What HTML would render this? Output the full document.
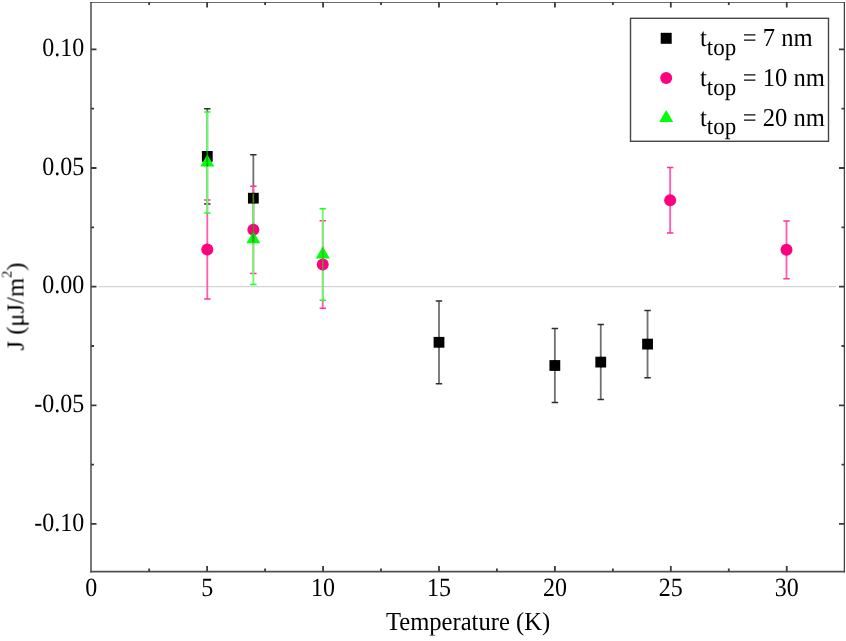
<!DOCTYPE html>
<html><head><meta charset="utf-8"><title>J vs Temperature</title>
<style>
html,body{margin:0;padding:0;background:#fff;}
body{width:846px;height:641px;overflow:hidden;}
svg{display:block;}
text{font-family:"Liberation Serif",serif;fill:#000;text-rendering:geometricPrecision;}
</style></head><body>
<svg width="846" height="641" viewBox="0 0 846 641">
<defs><filter id="soft" x="0" y="0" width="100%" height="100%"><feGaussianBlur stdDeviation="0.35"/></filter></defs>
<rect width="846" height="641" fill="#fff"/>
<g filter="url(#soft)">
<line x1="99" y1="286.67" x2="836" y2="286.67" stroke="#d4d4d4" stroke-width="1.2"/>
<path d="M91.0,571.6 V2.0" fill="none" stroke="#555" stroke-width="1.6" stroke-linecap="square"/>
<path d="M91.0,571.6 H844.5" fill="none" stroke="#505050" stroke-width="1.6" stroke-linecap="square"/>
<path d="M91.0,2.0 H844.5" fill="none" stroke="#3a3a3a" stroke-width="1.7" stroke-linecap="square"/>
<path d="M844.5,2.0 V571.6" fill="none" stroke="#404040" stroke-width="1.5" stroke-linecap="square"/>
<path d="M149.16,571.6v-3.0M149.16,2.0v3.0M207.12,571.6v-5.5M207.12,2.0v5.5M265.09,571.6v-3.0M265.09,2.0v3.0M323.05,571.6v-5.5M323.05,2.0v5.5M381.01,571.6v-3.0M381.01,2.0v3.0M438.97,571.6v-5.5M438.97,2.0v5.5M496.94,571.6v-3.0M496.94,2.0v3.0M554.90,571.6v-5.5M554.90,2.0v5.5M612.86,571.6v-3.0M612.86,2.0v3.0M670.83,571.6v-5.5M670.83,2.0v5.5M728.79,571.6v-3.0M728.79,2.0v3.0M786.75,571.6v-5.5M786.75,2.0v5.5M91.0,523.97h5.5M844.5,523.97h-5.5M91.0,464.65h3.0M844.5,464.65h-3.0M91.0,405.32h5.5M844.5,405.32h-5.5M91.0,346.00h3.0M844.5,346.00h-3.0M91.0,286.67h5.5M844.5,286.67h-5.5M91.0,227.35h3.0M844.5,227.35h-3.0M91.0,168.02h5.5M844.5,168.02h-5.5M91.0,108.69h3.0M844.5,108.69h-3.0M91.0,49.37h5.5M844.5,49.37h-5.5" stroke="#3a3a3a" stroke-width="1.8" fill="none"/>
<text transform="translate(91.20,595.6) scale(0.975,1.07)" font-size="24.6" text-anchor="middle" font-family="Liberation Serif, serif">0</text>
<text transform="translate(207.12,595.6) scale(0.975,1.07)" font-size="24.6" text-anchor="middle" font-family="Liberation Serif, serif">5</text>
<text transform="translate(323.05,595.6) scale(0.975,1.07)" font-size="24.6" text-anchor="middle" font-family="Liberation Serif, serif">10</text>
<text transform="translate(438.97,595.6) scale(0.975,1.07)" font-size="24.6" text-anchor="middle" font-family="Liberation Serif, serif">15</text>
<text transform="translate(554.90,595.6) scale(0.975,1.07)" font-size="24.6" text-anchor="middle" font-family="Liberation Serif, serif">20</text>
<text transform="translate(670.83,595.6) scale(0.975,1.07)" font-size="24.6" text-anchor="middle" font-family="Liberation Serif, serif">25</text>
<text transform="translate(786.75,595.6) scale(0.975,1.07)" font-size="24.6" text-anchor="middle" font-family="Liberation Serif, serif">30</text>
<text transform="translate(84.3,55.97) scale(0.975,1.07)" font-size="24.6" text-anchor="end" font-family="Liberation Serif, serif">0.10</text>
<text transform="translate(84.3,174.62) scale(0.975,1.07)" font-size="24.6" text-anchor="end" font-family="Liberation Serif, serif">0.05</text>
<text transform="translate(84.3,293.27) scale(0.975,1.07)" font-size="24.6" text-anchor="end" font-family="Liberation Serif, serif">0.00</text>
<text transform="translate(84.3,411.92) scale(0.975,1.07)" font-size="24.6" text-anchor="end" font-family="Liberation Serif, serif">-0.05</text>
<text transform="translate(84.3,530.57) scale(0.975,1.07)" font-size="24.6" text-anchor="end" font-family="Liberation Serif, serif">-0.10</text>
<text transform="translate(468,629.6) scale(1,1.06)" font-size="24.6" text-anchor="middle" font-family="Liberation Serif, serif">Temperature (K)</text>
<text transform="translate(23.5,306.5) rotate(-90)" font-size="24.6" text-anchor="middle" font-family="Liberation Serif, serif">J (μJ/m<tspan font-size="14.5" dy="-12">2</tspan><tspan dy="12">)</tspan></text>
<path d="M207.3,108.80V204.00M253.35,154.80V241.60M439.0,300.90V383.70M554.85,328.40V402.60M600.75,324.60V399.60M647.55,310.50V377.70" stroke="#707070" stroke-width="1.8" fill="none"/>
<path d="M204.10,108.80h6.4M204.10,204.00h6.4M250.15,154.80h6.4M250.15,241.60h6.4M435.80,300.90h6.4M435.80,383.70h6.4M551.65,328.40h6.4M551.65,402.60h6.4M597.55,324.60h6.4M597.55,399.60h6.4M644.35,310.50h6.4M644.35,377.70h6.4" stroke="#2e2e2e" stroke-width="1.5" fill="none"/>
<path d="M207.3,199.90V299.10M253.35,186.20V273.50M322.75,220.80V308.20M670.15,167.60V232.90M786.5,220.90V278.80" stroke="#ff5caf" stroke-width="1.8" fill="none"/>
<path d="M204.10,199.90h6.4M204.10,299.10h6.4M250.15,186.20h6.4M250.15,273.50h6.4M319.55,220.80h6.4M319.55,308.20h6.4M666.95,167.60h6.4M666.95,232.90h6.4M783.30,220.90h6.4M783.30,278.80h6.4" stroke="#ff3399" stroke-width="1.5" fill="none"/>
<path d="M207.3,111.90V212.90M253.35,193.80V284.60M322.75,208.70V300.20" stroke="#66ff66" stroke-width="1.8" fill="none"/>
<path d="M204.10,111.90h6.4M204.10,212.90h6.4M250.15,193.80h6.4M250.15,284.60h6.4M319.55,208.70h6.4M319.55,300.20h6.4" stroke="#22ff22" stroke-width="1.5" fill="none"/>
<rect x="201.90" y="151.00" width="10.8" height="10.8" fill="#000"/><rect x="247.95" y="192.80" width="10.8" height="10.8" fill="#000"/><rect x="433.60" y="336.90" width="10.8" height="10.8" fill="#000"/><rect x="549.45" y="360.10" width="10.8" height="10.8" fill="#000"/><rect x="595.35" y="356.70" width="10.8" height="10.8" fill="#000"/><rect x="642.15" y="338.70" width="10.8" height="10.8" fill="#000"/><circle cx="207.30" cy="249.50" r="6.0" fill="#ff007f"/><circle cx="253.35" cy="229.85" r="6.0" fill="#ff007f"/><circle cx="322.75" cy="264.50" r="6.0" fill="#ff007f"/><circle cx="670.15" cy="200.25" r="6.0" fill="#ff007f"/><circle cx="786.50" cy="249.85" r="6.0" fill="#ff007f"/><path d="M207.30,154.40L214.30,166.40L200.30,166.40Z" fill="#00ff08"/><path d="M253.35,231.20L260.35,243.20L246.35,243.20Z" fill="#00ff08"/><path d="M322.75,246.45L329.75,258.45L315.75,258.45Z" fill="#00ff08"/>
<clipPath id="sym"><rect x="201.90" y="151.00" width="10.8" height="10.8" fill="#000"/><rect x="247.95" y="192.80" width="10.8" height="10.8" fill="#000"/><rect x="433.60" y="336.90" width="10.8" height="10.8" fill="#000"/><rect x="549.45" y="360.10" width="10.8" height="10.8" fill="#000"/><rect x="595.35" y="356.70" width="10.8" height="10.8" fill="#000"/><rect x="642.15" y="338.70" width="10.8" height="10.8" fill="#000"/><circle cx="207.30" cy="249.50" r="6.0" fill="#ff007f"/><circle cx="253.35" cy="229.85" r="6.0" fill="#ff007f"/><circle cx="322.75" cy="264.50" r="6.0" fill="#ff007f"/><circle cx="670.15" cy="200.25" r="6.0" fill="#ff007f"/><circle cx="786.50" cy="249.85" r="6.0" fill="#ff007f"/><path d="M207.30,154.40L214.30,166.40L200.30,166.40Z" fill="#00ff08"/><path d="M253.35,231.20L260.35,243.20L246.35,243.20Z" fill="#00ff08"/><path d="M322.75,246.45L329.75,258.45L315.75,258.45Z" fill="#00ff08"/></clipPath>
<g clip-path="url(#sym)">
<path d="M207.3,108.80V204.00M253.35,154.80V241.60M439.0,300.90V383.70M554.85,328.40V402.60M600.75,324.60V399.60M647.55,310.50V377.70" stroke="#000" stroke-opacity="0.5" stroke-width="1.6" fill="none"/>
<path d="M207.3,199.90V299.10M253.35,186.20V273.50M322.75,220.80V308.20M670.15,167.60V232.90M786.5,220.90V278.80" stroke="#ff007f" stroke-opacity="0.5" stroke-width="1.6" fill="none"/>
<path d="M207.3,111.90V212.90M253.35,193.80V284.60M322.75,208.70V300.20" stroke="#00ff08" stroke-opacity="0.5" stroke-width="1.6" fill="none"/>
</g>
<rect x="630.5" y="18.3" width="198" height="123" fill="#fff" stroke="#444" stroke-width="1.4"/>
<rect x="660.70" y="32.80" width="11" height="11" fill="#000"/>
<circle cx="666.20" cy="78.10" r="6" fill="#ff007f"/>
<path d="M666.20,109.90L673.20,121.90L659.20,121.90Z" fill="#00ff08"/>
<text transform="translate(700,46.2) scale(1,1.05)" font-size="24.6" font-family="Liberation Serif, serif">t<tspan dy="8.2" font-size="23">top</tspan><tspan dy="-8.2" dx="0.4"> = 7 nm</tspan></text>
<text transform="translate(700,86.0) scale(1,1.05)" font-size="24.6" font-family="Liberation Serif, serif">t<tspan dy="8.2" font-size="23">top</tspan><tspan dy="-8.2" dx="0.4"> = 10 nm</tspan></text>
<text transform="translate(700,125.8) scale(1,1.05)" font-size="24.6" font-family="Liberation Serif, serif">t<tspan dy="8.2" font-size="23">top</tspan><tspan dy="-8.2" dx="0.4"> = 20 nm</tspan></text>
</g>
</svg>
</body></html>
